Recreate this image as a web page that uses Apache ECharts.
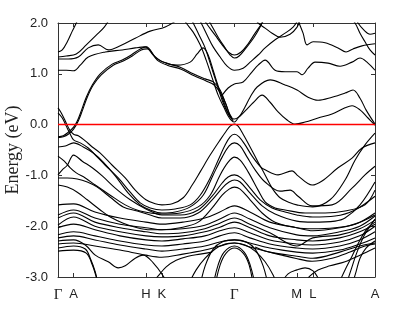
<!DOCTYPE html>
<html><head><meta charset="utf-8">
<script src="https://cdn.jsdelivr.net/npm/echarts@6/dist/echarts.min.js"></script>
<style>html,body{margin:0;padding:0;background:#fff}#c{width:415px;height:311px}</style>
</head><body><div id="c"></div>
<script>
// k-path positions (arbitrary path units) and labels
const kTicks = [0, 15.6, 88, 104, 176.6, 239, 255, 317.3];
const kLabels = ['Γ', 'A', 'H', 'K', 'Γ', 'M', 'L', 'A'];
const energyMin = -3, energyMax = 2, fermiLevel = 0;

// conduction bands: [k, E(eV)]
const cb01 = [[0,1.43],[4.3,1.47],[9.3,1.63],[14.3,1.84],[18.3,2.0],[20.3,2.1]];
const cb02 = [[0,1.33],[8.3,1.35],[18.3,1.39],[28.3,1.57],[38.3,1.76],[46.3,1.92],[52.3,2.1]];
const cb03 = [[0,1.29],[10.3,1.29],[20.3,1.33],[30.3,1.51],[40.3,1.57],[50.3,1.47],[62.3,1.55],[77.3,1.70],[92.3,1.84],[107.3,1.92],[122.3,2.1]];
const cb04 = [[0,1.07],[8.3,1.07],[15.6,1.06],[22.3,1.17],[30.3,1.33],[47.3,1.43],[64.3,1.47],[77.3,1.51],[87.3,1.53],[95.3,1.37],[105.3,1.23],[119.3,1.17],[132.3,1.23],[139.3,1.39],[145.3,1.51],[150.3,1.37],[155.3,1.07],[160.3,0.76],[165.3,0.48],[169.3,0.27],[172.3,0.15]];
const cb05 = [[0,-0.24],[5.3,-0.22],[10.3,-0.15],[15.6,-0.05],[19.3,0.07],[23.3,0.27],[28.3,0.54],[34.3,0.78],[42.3,1.00],[54.3,1.19],[64.3,1.27],[73.3,1.37],[82.3,1.49],[88.3,1.53],[98.3,1.31],[108.3,1.21],[122.3,1.13],[135.3,1.00],[147.3,0.90],[155.3,0.84],[162.3,0.68],[167.3,0.44],[171.3,0.23],[174.3,0.13]];
const cb06 = [[0,-0.26],[5.3,-0.24],[10.3,-0.19],[15.6,-0.09],[20.3,0.07],[24.3,0.27],[29.3,0.54],[35.3,0.78],[43.3,0.98],[55.3,1.17],[65.3,1.25],[74.3,1.35],[83.3,1.47],[89.3,1.49],[99.3,1.27],[109.3,1.17],[123.3,1.09],[136.3,0.96],[148.3,0.86],[156.3,0.78],[163.3,0.60],[168.3,0.39],[172.3,0.17],[175.3,0.07]];
const cb07 = [[125.3,2.1],[128.3,2.0],[135.3,1.82],[142.3,1.57],[148.3,1.27],[154.3,0.92],[160.3,0.58],[166.3,0.33],[170.3,0.17],[173.3,0.09],[176.6,0.05],[180.3,0.13],[183.3,0.21],[187.3,0.35],[192.3,0.54],[199.3,0.74],[212.3,0.88],[227.3,0.78],[239.3,0.68],[250.3,0.54],[260.3,0.48],[274.3,0.54],[287.3,0.62],[295.3,0.68],[302.3,0.52],[308.3,0.29],[317.3,0.01]];
const cb08 = [[132.3,2.1],[135.3,2.0],[142.3,1.72],[147.3,1.51],[152.3,1.21],[158.3,0.84],[164.3,0.48],[169.3,0.25],[173.3,0.13],[176.6,0.11],[182.3,0.17],[190.3,0.33],[195.3,0.43],[204.3,0.58],[212.3,0.44],[220.3,0.25],[229.3,0.09],[237.3,0.01],[247.3,0.05],[260.3,0.13],[274.3,0.21],[287.3,0.33],[294.3,0.37],[302.3,0.29],[310.3,0.13],[317.3,-0.01]];
const cb09 = [[145.3,2.1],[148.3,2.0],[157.3,1.76],[164.3,1.57],[170.3,1.43],[176.6,1.37],[183.3,1.43],[190.3,1.59],[197.3,1.80],[204.3,2.0],[207.3,2.1]];
const cb10 = [[149.3,2.1],[152.3,2.0],[160.3,1.72],[167.3,1.51],[172.3,1.37],[176.6,1.31],[181.3,1.35],[188.3,1.51],[196.3,1.72],[202.3,1.92],[205.3,2.06]];
const cb11 = [[140.3,2.1],[143.3,2.0],[149.3,1.76],[155.3,1.53],[162.3,1.33],[169.3,1.15],[176.6,1.07],[185.3,1.11],[192.3,1.23],[200.3,1.37],[207.3,1.51],[217.3,1.67],[227.3,1.80],[235.3,1.92],[240.3,2.06]];
const cb12 = [[164.3,0.58],[170.3,0.72],[176.6,0.80],[185.3,0.84],[194.3,1.04],[200.3,1.17],[207.3,1.27],[217.3,1.07],[227.3,1.04],[239.3,1.04],[244.3,0.98],[250.3,1.11],[257.3,1.23],[270.3,1.21],[282.3,1.15],[294.3,1.23],[302.3,1.31],[310.3,1.21],[317.3,1.07]];
const cb13 = [[197.3,2.1],[200.3,2.0],[207.3,1.90],[214.3,1.80],[222.3,1.72],[232.3,1.78],[239.3,1.92],[242.3,2.06]];
const cb14 = [[239.3,2.1],[241.3,2.0],[245.3,1.80],[249.3,1.57],[255.3,1.63],[267.3,1.61],[280.3,1.51],[288.3,1.43],[295.3,1.49],[304.3,1.55],[317.3,1.59]];
const cb15 = [[292.3,2.1],[297.3,2.0],[302.3,1.80],[307.3,1.63],[312.3,1.47],[317.3,1.37]];
const cb16 = [[298.3,2.1],[300.3,2.0],[306.3,1.86],[312.3,1.78],[317.3,1.80]];

// upper valence bands
const vb01 = [[0,0.33],[3.3,0.23],[7.3,0.07],[11.3,-0.09],[15.6,-0.19],[20.3,-0.22],[27.3,-0.32],[34.3,-0.44],[42.3,-0.56],[54.3,-0.80],[67.3,-1.05],[77.3,-1.29],[88,-1.48],[97.3,-1.56],[104,-1.58],[114.3,-1.56],[125.3,-1.44],[134.3,-1.19],[142.3,-0.93],[152.3,-0.60],[162.3,-0.30],[168.3,-0.13],[172.3,-0.03],[176.6,0.01],[180.3,-0.03],[185.3,-0.19],[192.3,-0.44],[200.3,-0.74],[207.3,-0.99],[214.3,-1.25],[222.3,-1.44],[232.3,-1.54],[239,-1.58],[255,-1.62],[272.3,-1.48],[287.3,-1.09],[297.3,-0.70],[307.3,-0.40],[317.3,-0.17]];
const vb02 = [[0,0.23],[4.3,0.13],[8.3,-0.03],[12.3,-0.19],[15.6,-0.30],[22.3,-0.36],[30.3,-0.46],[38.3,-0.62],[47.3,-0.80],[60.3,-1.05],[72.3,-1.33],[82.3,-1.54],[92.3,-1.64],[104,-1.68],[117.3,-1.66],[132.3,-1.58],[142.3,-1.39],[152.3,-1.05],[160.3,-0.70],[167.3,-0.40],[172.3,-0.24],[176.6,-0.19],[181.3,-0.24],[187.3,-0.40],[194.3,-0.62],[202.3,-0.82],[207.3,-0.89],[220.3,-0.99],[234.3,-0.91],[240.3,-1.01],[254.3,-1.19],[264.3,-1.11],[280.3,-0.85],[294.3,-0.66],[304.3,-0.46],[317.3,-0.36]];
const vb03 = [[0,-0.44],[7.3,-0.42],[15.6,-0.36],[25.3,-0.44],[35.3,-0.56],[45.3,-0.74],[57.3,-1.01],[70.3,-1.35],[82.3,-1.58],[92.3,-1.68],[104,-1.74],[117.3,-1.72],[132.3,-1.62],[145.3,-1.39],[155.3,-0.99],[164.3,-0.64],[171.3,-0.42],[176.6,-0.36],[182.3,-0.42],[189.3,-0.64],[197.3,-0.89],[207.3,-1.13],[222.3,-1.31],[232.3,-1.29],[240.3,-1.41],[254.3,-1.60],[274.3,-1.58],[294.3,-1.25],[307.3,-0.99],[317.3,-0.82]];
const vb04 = [[0,-0.62],[6.3,-0.72],[12.3,-0.85],[18.3,-0.95],[27.3,-1.05],[37.3,-1.19],[52.3,-1.39],[67.3,-1.58],[82.3,-1.70],[104,-1.76],[122.3,-1.74],[140.3,-1.62],[152.3,-1.39],[162.3,-0.99],[170.3,-0.74],[176.6,-0.64],[182.3,-0.70],[190.3,-0.93],[200.3,-1.29],[207.3,-1.52],[217.3,-1.64],[227.3,-1.68],[247.3,-1.74],[267.3,-1.74],[287.3,-1.70],[307.3,-1.58],[317.3,-1.29]];
const vb05 = [[0,-0.99],[4.3,-0.89],[9.3,-0.80],[15.6,-0.60],[24.3,-0.72],[34.3,-0.85],[44.3,-1.01],[57.3,-1.25],[72.3,-1.48],[88,-1.66],[104,-1.78],[122.3,-1.78],[140.3,-1.68],[154.3,-1.41],[164.3,-1.15],[170.3,-1.03],[176.6,-0.99],[183.3,-1.05],[192.3,-1.25],[202.3,-1.48],[214.3,-1.64],[227.3,-1.72],[239,-1.78],[255,-1.82],[277.3,-1.80],[297.3,-1.68],[317.3,-1.41]];
const vb06 = [[0,-1.05],[9.3,-1.05],[19.3,-1.07],[29.3,-1.13],[39.3,-1.23],[52.3,-1.43],[65.3,-1.62],[79.3,-1.70],[92.3,-1.78],[104,-1.84],[122.3,-1.84],[140.3,-1.74],[154.3,-1.48],[165.3,-1.23],[171.3,-1.13],[176.6,-1.09],[182.3,-1.13],[192.3,-1.35],[204.3,-1.60],[217.3,-1.76],[239,-1.90],[255,-1.92],[277.3,-1.90],[287.3,-1.84],[302.3,-1.58],[317.3,-1.13]];
const vb07 = [[0,-1.19],[9.3,-1.23],[19.3,-1.33],[29.3,-1.48],[42.3,-1.68],[52.3,-1.82],[65.3,-1.94],[79.3,-2.03],[92.3,-2.07],[104,-2.07],[122.3,-2.03],[140.3,-1.92],[154.3,-1.64],[164.3,-1.39],[171.3,-1.27],[176.6,-1.23],[182.3,-1.27],[192.3,-1.48],[204.3,-1.74],[217.3,-1.92],[239,-2.03],[255,-2.05],[277.3,-2.03],[297.3,-1.96],[317.3,-1.78]];

// dense band bundle sampled on a common k grid
const bundleK = [0, 15.6, 37, 62, 88, 104, 125, 147, 162, 176.6, 192, 212, 239, 255, 282, 302, 317.3];
const bundle1 = [-1.58,-1.56,-1.72,-1.84,-1.92,-1.96,-1.92,-1.84,-1.72,-1.60,-1.72,-1.92,-2.03,-2.09,-2.03,-1.92,-1.74];
const bundle2 = [-1.78,-1.68,-1.84,-1.96,-2.03,-2.07,-2.05,-1.98,-1.86,-1.74,-1.86,-2.03,-2.17,-2.19,-2.11,-2.00,-1.80];
const bundle3 = [-1.84,-1.74,-1.92,-2.03,-2.11,-2.15,-2.13,-2.05,-1.94,-1.84,-1.96,-2.13,-2.39,-2.23,-2.17,-2.05,-1.88];
const bundle4 = [-1.98,-1.82,-2.00,-2.11,-2.19,-2.21,-2.19,-2.11,-2.02,-1.92,-2.03,-2.19,-2.27,-2.29,-2.23,-2.11,-1.96];
const bundle5 = [-2.03,-1.96,-2.07,-2.19,-2.27,-2.29,-2.25,-2.19,-2.09,-2.03,-2.13,-2.27,-2.35,-2.37,-2.31,-2.19,-2.00];
const bundle6 = [-2.17,-2.11,-2.19,-2.29,-2.37,-2.39,-2.35,-2.29,-2.19,-2.13,-2.23,-2.35,-2.43,-2.45,-2.39,-2.27,-2.11];
const bundle7 = [-2.23,-2.19,-2.27,-2.37,-2.45,-2.49,-2.45,-2.39,-2.31,-2.27,-2.33,-2.43,-2.51,-2.53,-2.47,-2.35,-2.23];
const bundle8 = [-2.35,-2.33,-2.39,-2.47,-2.57,-2.61,-2.55,-2.47,-2.39,-2.33,-2.41,-2.51,-2.59,-2.63,-2.51,-2.39,-2.33];

// deep bands
const db01 = [[0,-2.29],[15.6,-2.27],[27.3,-2.37],[37.3,-2.57],[50.3,-2.70],[60.3,-2.82],[67.3,-2.78],[77.3,-2.63],[85.3,-2.57],[95.3,-2.72],[105.3,-2.98],[109.3,-3.16]];
const db02 = [[0,-2.43],[15.6,-2.39],[27.3,-2.45],[32.3,-2.63],[37.3,-2.90],[40.3,-3.16]];
const db03 = [[0,-2.49],[15.6,-2.47],[28.3,-2.53],[34.3,-2.76],[38.3,-3.0],[40.3,-3.16]];
const db04 = [[92.3,-3.16],[100.3,-2.98],[108.3,-2.80],[118.3,-2.67],[130.3,-2.59],[142.3,-2.55],[154.3,-2.51]];
const db05 = [[130.3,-3.16],[138.3,-2.86],[147.3,-2.63],[157.3,-2.45],[167.3,-2.35],[176.6,-2.33],[187.3,-2.37],[197.3,-2.49],[207.3,-2.70],[215.3,-2.96],[219.3,-3.16]];
const db06 = [[142.3,-3.16],[147.3,-2.78],[155.3,-2.45],[164.3,-2.31],[176.6,-2.27],[188.3,-2.31],[197.3,-2.45],[205.3,-2.78],[210.3,-3.16]];
const db07 = [[155.3,-3.16],[160.3,-2.76],[166.3,-2.51],[176.6,-2.39],[186.3,-2.51],[192.3,-2.76],[197.3,-3.16]];
const db08 = [[157.3,-3.16],[162.3,-2.76],[168.3,-2.53],[176.6,-2.43],[185.3,-2.53],[191.3,-2.76],[195.3,-3.16]];
const db09 = [[222.3,-3.16],[230.3,-2.94],[239.3,-2.86],[247.3,-2.82],[255.3,-2.88],[260.3,-3.02],[263.3,-3.16]];
const db10 = [[245.3,-3.16],[252.3,-2.98],[260.3,-2.86],[272.3,-2.78],[287.3,-2.70],[302.3,-2.57],[317.3,-2.43]];
const db11 = [[197.3,-2.41],[207.3,-2.49],[224.3,-2.57],[237.3,-2.63],[254.3,-2.69],[274.3,-2.63],[292.3,-2.51],[307.3,-2.39],[317.3,-2.35]];
const db12 = [[280.3,-3.16],[287.3,-2.86],[294.3,-2.59],[302.3,-2.27],[310.3,-2.03],[317.3,-1.92]];
const db13 = [[288.3,-3.16],[293.3,-2.86],[299.3,-2.51],[306.3,-2.19],[312.3,-2.00],[317.3,-1.86]];
const db14 = [[294.3,-3.16],[298.3,-2.90],[302.3,-2.63],[308.3,-2.43],[317.3,-2.29]];

const bundles = [bundle1,bundle2,bundle3,bundle4,bundle5,bundle6,bundle7,bundle8];
const bands = [cb01,cb02,cb03,cb04,cb05,cb06,cb07,cb08,cb09,cb10,cb11,cb12,cb13,cb14,cb15,cb16,
  vb01,vb02,vb03,vb04,vb05,vb06,vb07,
  ...bundles.map(b => bundleK.map((k, i) => [k, b[i]])),
  db01,db02,db03,db04,db05,db06,db07,db08,db09,db10,db11,db12,db13,db14];

const chart = echarts.init(document.getElementById('c'), null, {renderer: 'canvas'});
const series = bands.map(d => ({
  type: 'line', data: d, smooth: 0.35, showSymbol: false, silent: true, clip: true,
  lineStyle: {color: '#000', width: 1.1}, z: 2
}));
series.push({
  type: 'line', data: [[kTicks[0], fermiLevel], [kTicks[kTicks.length - 1], fermiLevel]],
  showSymbol: false, silent: true, lineStyle: {color: '#ff0000', width: 1.5}, z: 5
});
const kLabelOf = v => {
  let best = 0;
  kTicks.forEach((t, i) => { if (Math.abs(t - v) < Math.abs(kTicks[best] - v)) best = i; });
  const s = kLabels[best];
  return s === 'Γ' ? '{g|Γ}' : '{s|' + s + '}';
};
const axisCol = '#333';
chart.setOption({
  animation: false,
  backgroundColor: '#fff',
  grid: {left: 58, right: 40, top: 23, bottom: 34, containLabel: false, outerBoundsMode: 'none'},
  xAxis: [{
    type: 'value', min: kTicks[0], max: kTicks[kTicks.length - 1], position: 'bottom',
    axisLine: {show: true, onZero: false, lineStyle: {color: axisCol, width: 1}},
    axisTick: {show: true, inside: true, length: 4, customValues: kTicks, lineStyle: {color: axisCol}},
    axisLabel: {show: true, customValues: kTicks, margin: 11, formatter: kLabelOf,
      rich: {g: {fontFamily: 'Liberation Serif', fontSize: 15, color: '#222'},
             s: {fontFamily: 'Liberation Sans', fontSize: 13, color: '#222'}}},
    splitLine: {show: false}
  }, {
    type: 'value', min: kTicks[0], max: kTicks[kTicks.length - 1], position: 'top',
    axisLine: {show: true, onZero: false, lineStyle: {color: axisCol, width: 1}},
    axisTick: {show: true, inside: true, length: 4, customValues: kTicks, lineStyle: {color: axisCol}},
    axisLabel: {show: false}, splitLine: {show: false}
  }],
  yAxis: [{
    type: 'value', min: energyMin, max: energyMax, interval: 1, position: 'left',
    name: 'Energy (eV)', nameLocation: 'middle', nameGap: 36, nameMoveOverlap: false,
    nameTextStyle: {fontFamily: 'Liberation Serif', fontSize: 18, color: '#222'},
    axisLine: {show: true, onZero: false, lineStyle: {color: axisCol, width: 1}},
    axisTick: {show: true, inside: true, length: 4, lineStyle: {color: axisCol}},
    axisLabel: {margin: 10, fontFamily: 'Liberation Sans', fontSize: 13, color: '#222',
      formatter: v => v.toFixed(1)},
    splitLine: {show: false}
  }, {
    type: 'value', min: energyMin, max: energyMax, interval: 1, position: 'right',
    axisLine: {show: true, onZero: false, lineStyle: {color: axisCol, width: 1}},
    axisTick: {show: true, inside: true, length: 4, lineStyle: {color: axisCol}},
    axisLabel: {show: false}, splitLine: {show: false}
  }],
  series: series
});
</script></body></html>
